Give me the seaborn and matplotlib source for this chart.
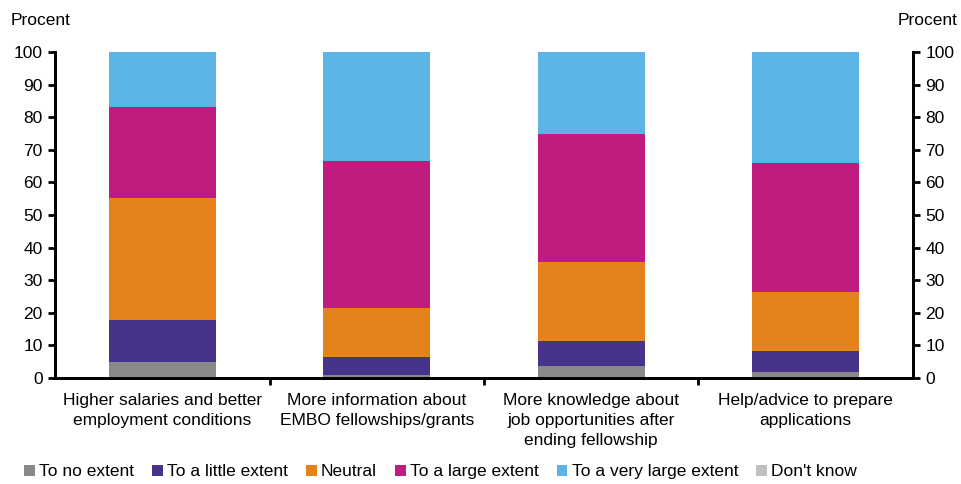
import matplotlib
matplotlib.use('Agg')
import matplotlib.pyplot as plt
import seaborn as sns
import pandas as pd
import numpy as np
from matplotlib.patches import Patch

# Data
categories = ['Higher salaries and better\nemployment conditions',
              'More information about\nEMBO fellowships/grants',
              'More knowledge about\njob opportunities after\nending fellowship',
              'Help/advice to prepare\napplications']
series = ['To no extent', 'To a little extent', 'Neutral',
          'To a large extent', 'To a very large extent', "Don't know"]
no_extent = [4.9, 0.8, 3.8, 1.7]
little_extent = [12.9, 5.7, 7.6, 6.7]
neutral = [37.4, 15.0, 24.2, 18.0]
large_extent = [27.9, 45.1, 39.2, 39.6]
very_large_extent = [16.9, 33.4, 25.2, 34.0]
dont_know = [0.0, 0.0, 0.0, 0.0]

colors = ['#898989', '#47338c', '#e6821e', '#c01b7f', '#5bb4e5', '#c0c0c0']

plt.rcParams['font.family'] = ['Liberation Sans', 'DejaVu Sans']
fs = 12.5

wide = pd.DataFrame({
    'To no extent': no_extent,
    'To a little extent': little_extent,
    'Neutral': neutral,
    'To a large extent': large_extent,
    'To a very large extent': very_large_extent,
    "Don't know": dont_know,
}, index=categories)
cum = wide.cumsum(axis=1)

fig = plt.figure(figsize=(9.62, 4.84), dpi=100)
ax = fig.add_axes([0.0572, 0.219, 0.8918, 0.6736])

# draw cumulative totals from the top down so each stack segment shows
for s, c in reversed(list(zip(series, colors))):
    d = pd.DataFrame({'cat': categories, 'val': cum[s].values})
    sns.barplot(data=d, x='cat', y='val', color=c, width=0.5, ax=ax,
                saturation=1, edgecolor='none', linewidth=0, order=categories)

ax.set_xlim(-0.5, 3.5)
ax.set_ylim(0, 100)
ax.set_yticks(np.arange(0, 101, 10))
ax.set_xlabel('')
ax.set_ylabel('')
ax.spines['top'].set_visible(False)
for sp in ['left', 'bottom', 'right']:
    ax.spines[sp].set_linewidth(2)
ax.tick_params(axis='y', direction='out', length=5, width=2, labelsize=fs, pad=4)
ax.tick_params(axis='x', which='major', length=0, labelsize=fs, pad=11)
ax.set_xticks(range(4))
ax.set_xticklabels(categories, linespacing=1.4)
ax.set_xticks([0.5, 1.5, 2.5], minor=True)
ax.tick_params(axis='x', which='minor', direction='out', length=5, width=2)

ax2 = ax.twinx()
ax2.set_ylim(0, 100)
ax2.set_yticks(np.arange(0, 101, 10))
ax2.spines['top'].set_visible(False)
for sp in ['left', 'bottom', 'right']:
    ax2.spines[sp].set_linewidth(2)
ax2.tick_params(axis='y', direction='out', length=5, width=2, labelsize=fs, pad=4)

fig.text(0.011, 0.957, 'Procent', fontsize=fs, ha='left', va='center')
fig.text(0.995, 0.957, 'Procent', fontsize=fs, ha='right', va='center')

handles = [Patch(facecolor=c, edgecolor='none') for c in colors]
fig.legend(handles, series, loc='center', bbox_to_anchor=(0.458, 0.025), ncol=6,
           frameon=False, fontsize=fs, handlelength=0.6, handleheight=0.6,
           handletextpad=0.25, columnspacing=1.05, borderaxespad=0)

fig.savefig('out.png', dpi=100)
